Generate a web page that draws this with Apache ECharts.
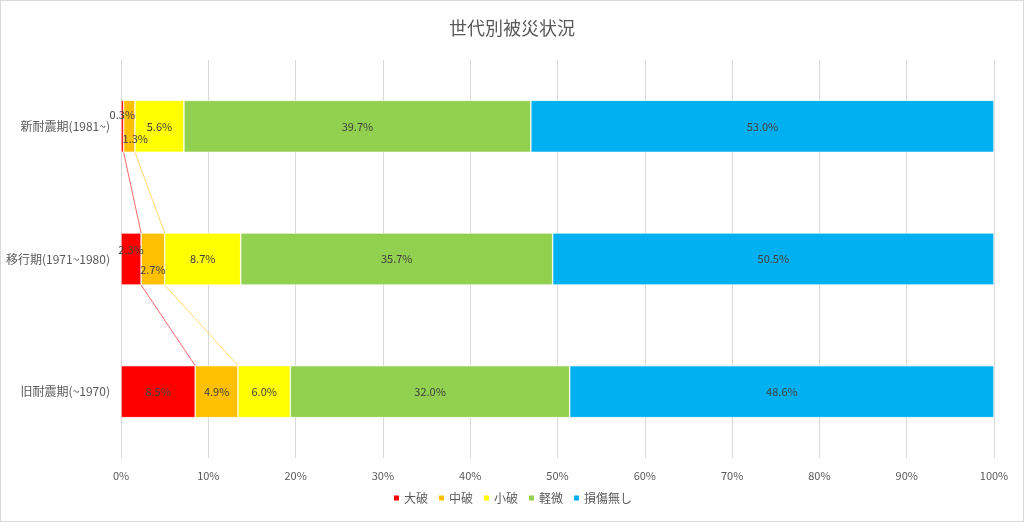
<!DOCTYPE html>
<html>
<head>
<meta charset="utf-8">
<script src="https://cdn.jsdelivr.net/npm/echarts@6/dist/echarts.min.js"></script>
<style>
  html, body { margin: 0; padding: 0; background: #fff; }
  #chart { width: 1022px; height: 520px; border: 1px solid #d9d9d9; }
</style>
</head>
<body>
<div id="chart"></div>
<script>
// 下から上の順（ECharts のカテゴリ軸は先頭が下）
const categories = ["旧耐震期(~1970)", "移行期(1971~1980)", "新耐震期(1981~)"];
const seriesNames = ["大破", "中破", "小破", "軽微", "損傷無し"];
const daiha = [8.5, 2.3, 0.3];
const chuha = [4.9, 2.7, 1.3];
const shoha = [6.0, 8.7, 5.6];
const keibi = [32.0, 35.7, 39.7];
const mushou = [48.6, 50.5, 53.0];
const xTicks = ["0%", "10%", "20%", "30%", "40%", "50%", "60%", "70%", "80%", "90%", "100%"];

const colors = ["#FF0000", "#FFC000", "#FFFF00", "#92D050", "#00B0F0"];
const values = [daiha, chuha, shoha, keibi, mushou];
const FONT = "Noto Sans CJK JP";
const BAR = 52;

// 100%積み上げ用に各行を正規化
const totals = categories.map((c, i) => values.reduce((s, arr) => s + arr[i], 0));

// 小さい区間のラベル位置の調整
const labelOffsets = {
  "0-2": [0, -12], "1-2": [6, 12],
  "0-1": [0, -9], "1-1": [0, 11]
};

const barSeries = values.map((arr, si) => ({
  name: seriesNames[si],
  type: "bar",
  stack: "total",
  barWidth: BAR,
  itemStyle: { color: colors[si], borderColor: "#fff", borderWidth: 0.6 },
  label: {
    show: true,
    position: "inside",
    color: "#404040",
    fontSize: 11,
    fontFamily: FONT,
    formatter: p => arr[p.dataIndex].toFixed(1) + "%"
  },
  data: arr.map((v, i) => {
    const d = { value: v / totals[i] * 100 };
    const off = labelOffsets[si + "-" + i];
    if (off) d.label = { offset: off };
    return d;
  })
}));

// 区分線（大破・中破の右端をつなぐ）
function cumEnd(si, i) {
  let s = 0;
  for (let k = 0; k <= si; k++) s += values[k][i];
  return s / totals[i] * 100;
}
const lineColors = ["rgba(255,0,0,0.75)", "rgba(255,192,0,0.75)"];
const seriesLines = [0, 1].map(si => ({
  type: "custom",
  silent: true,
  z: 1,
  renderItem: (params, api) => {
    const a = api.coord([api.value(0), api.value(1)]);
    const b = api.coord([api.value(2), api.value(3)]);
    return {
      type: "line",
      shape: { x1: a[0], y1: a[1] + BAR / 2, x2: b[0], y2: b[1] - BAR / 2 },
      style: { stroke: lineColors[si], lineWidth: 0.8 }
    };
  },
  data: [
    [cumEnd(si, 2), 2, cumEnd(si, 1), 1],
    [cumEnd(si, 1), 1, cumEnd(si, 0), 0]
  ]
}));

const chart = echarts.init(document.getElementById("chart"));
chart.setOption({
  animation: false,
  title: {
    text: "世代別被災状況",
    left: "center",
    top: 13,
    textStyle: { color: "#595959", fontSize: 18, fontWeight: "normal", fontFamily: FONT }
  },
  legend: {
    data: seriesNames,
    bottom: 12,
    left: "center",
    icon: "rect",
    itemWidth: 7,
    itemHeight: 7,
    itemGap: 9,
    textStyle: { color: "#595959", fontSize: 12, fontFamily: FONT, padding: [0, 0, 0, -1] }
  },
  grid: { left: 120, right: 29, top: 59, bottom: 63 },
  xAxis: {
    type: "value",
    min: 0,
    max: 100,
    interval: 10,
    axisLine: { show: false },
    axisTick: { show: false },
    splitLine: { lineStyle: { color: "#d9d9d9", width: 1 } },
    axisLabel: {
      color: "#595959",
      fontSize: 11,
      fontFamily: FONT,
      margin: 12,
      formatter: v => xTicks[Math.round(v / 10)]
    }
  },
  yAxis: {
    type: "category",
    data: categories,
    axisLine: { show: false },
    axisTick: { show: false },
    axisLabel: { color: "#595959", fontSize: 12, fontFamily: FONT, margin: 11 }
  },
  series: [...barSeries, ...seriesLines]
});
</script>
</body>
</html>
